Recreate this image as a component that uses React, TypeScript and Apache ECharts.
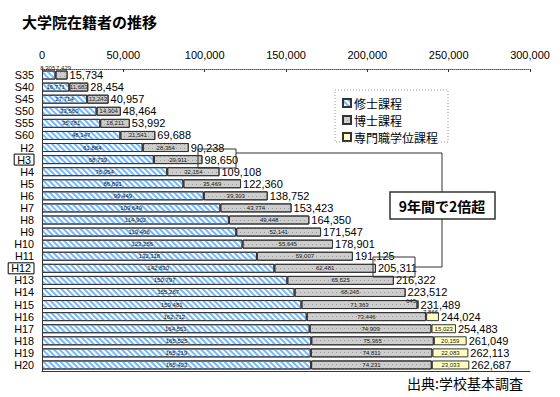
import React, { useEffect, useRef } from "react";
import * as echarts from "echarts";

const categories = ["S35","S40","S45","S50","S55","S60","H2","H3","H4","H5","H6","H7","H8","H9","H10","H11","H12","H13","H14","H15","H16","H17","H18","H19","H20"];
const master = [8305,16771,27714,33560,35781,48147,61884,68739,76954,86891,99449,109649,114902,119406,123256,132118,142830,150797,155267,159481,162712,164551,165525,165219,165423];
const doctor = [7429,11683,13243,14904,18211,21541,28354,29911,32154,35469,39303,43774,49448,52141,55645,59007,62481,65525,68245,71363,73446,74909,75365,74811,74231];
const professional: (number | null)[] = [null,null,null,null,null,null,null,null,null,null,null,null,null,null,null,null,null,null,null,645,7866,15023,20159,22083,23033];
const xTicks = [0, 50000, 100000, 150000, 200000, 250000, 300000];
const boxed = ["H3", "H12"];

const fmt = (v: number) => v.toLocaleString("en-US");
const NARROW = "'Liberation Sans Narrow', 'Liberation Sans', sans-serif";
const JP = "'Noto Sans CJK JP', sans-serif";

export default function App() {
  const ref = useRef<HTMLDivElement>(null);
  useEffect(() => {
    if (!ref.current) return;
    const chart = echarts.init(ref.current, undefined, { renderer: "svg" });
    const totals = categories.map((_, i) => master[i] + doctor[i] + (professional[i] ?? 0));
    const smallLabel = { show: true, position: "inside", fontSize: 6, lineHeight: 6, color: "#222", fontFamily: NARROW, formatter: (p: any) => fmt(p.value) };
    const topLabel = (offset: number[]) => ({ position: "top", distance: 0, offset, lineHeight: 5 });
    const masterTop: Record<number, number[]> = { 0: [-1, 0] };
    const doctorTop: Record<number, number[]> = { 0: [2, 0] };
    const profTop: Record<number, number[]> = { 19: [-7, 3], 20: [-2, 2.5] };
    const withTop = (arr: (number | null)[], tops: Record<number, number[]>) =>
      arr.map((v, i) => (v == null ? "-" : tops[i] ? { value: v, label: topLabel(tops[i]) } : v));
    chart.setOption({
      animation: false,
      textStyle: { fontFamily: "'Liberation Sans', sans-serif" },
      grid: { left: 42, top: 69, width: 488, height: 302, containLabel: false },
      legend: {
        data: ["修士課程", "博士課程", "専門職学位課程"],
        orient: "vertical",
        left: 337,
        top: 92,
        itemWidth: 8,
        itemHeight: 8,
        itemGap: 5,
        icon: "rect",
        textStyle: { fontSize: 12, color: "#000", fontFamily: JP, padding: [0, 0, 0, -2] },
      },
      xAxis: [
        {
          type: "value",
          position: "top",
          min: xTicks[0],
          max: xTicks[xTicks.length - 1],
          interval: xTicks[1] - xTicks[0],
          axisLine: { show: true, lineStyle: { color: "#555", type: "dotted" } },
          axisTick: { show: true, inside: true, length: 3, lineStyle: { color: "#333" } },
          axisLabel: { fontSize: 11, color: "#000", margin: 9, formatter: (v: number) => fmt(v) },
          splitLine: { show: false },
        },
        {
          type: "value",
          position: "bottom",
          min: xTicks[0],
          max: xTicks[xTicks.length - 1],
          axisLine: { show: true, lineStyle: { color: "#333" } },
          axisTick: { show: false },
          axisLabel: { show: false },
          splitLine: { show: false },
        },
      ],
      yAxis: [
        {
          type: "category",
          data: categories,
          inverse: true,
          axisLine: { show: true, lineStyle: { color: "#333" } },
          axisTick: { show: false },
          axisLabel: {
            interval: 0,
            fontSize: 10.8,
            lineHeight: 11,
            color: "#000",
            margin: 8,
            formatter: (v: string) => (boxed.includes(v) ? `{box|${v}}` : v),
            rich: { box: { fontSize: 10.8, lineHeight: 10, color: "#000", borderColor: "#000", borderWidth: 1, padding: [0, 3, 0, 3] } },
          },
        },
        {
          type: "category",
          data: categories,
          inverse: true,
          position: "right",
          axisLine: { show: true, lineStyle: { color: "#333" } },
          axisTick: { show: false },
          axisLabel: { show: false },
        },
      ],
      series: [
        {
          name: "合計",
          type: "bar",
          data: totals,
          barWidth: 9,
          barGap: "-100%",
          silent: true,
          itemStyle: { color: "rgba(0,0,0,0)" },
          label: { show: true, position: "right", distance: 2, fontSize: 11, lineHeight: 10, color: "#000", fontFamily: NARROW, formatter: (p: any) => fmt(p.value) },
          z: 1,
        },
        {
          name: "修士課程",
          type: "bar",
          stack: "a",
          barWidth: 9,
          barGap: "-100%",
          data: withTop(master, masterTop),
          itemStyle: {
            color: "#ffffff",
            borderColor: "#333",
            borderWidth: 1,
            decal: { symbol: "rect", symbolSize: 1, color: "#74b9ff", dashArrayX: [1, 0], dashArrayY: [2, 2], rotation: Math.PI / 4 },
          },
          label: smallLabel,
          z: 2,
        },
        {
          name: "博士課程",
          type: "bar",
          stack: "a",
          barWidth: 9,
          barGap: "-100%",
          data: withTop(doctor, doctorTop),
          itemStyle: {
            color: "#cdcdcd",
            borderColor: "#333",
            borderWidth: 1,
            decal: { symbol: "rect", symbolSize: 1, color: "#9a9a9a", dashArrayX: [1, 3], dashArrayY: [1, 3], rotation: 0 },
          },
          label: smallLabel,
          z: 2,
        },
        {
          name: "専門職学位課程",
          type: "bar",
          stack: "a",
          barWidth: 9,
          barGap: "-100%",
          data: withTop(professional, profTop),
          itemStyle: { color: "#ffffc2", borderColor: "#333", borderWidth: 1 },
          label: smallLabel,
          z: 2,
        },
      ],
      graphic: [
        { type: "text", left: 22, top: 14, style: { text: "大学院在籍者の推移", fontSize: 15, fontWeight: "bold", fill: "#000", fontFamily: JP } },
        { type: "rect", shape: { x: 335, y: 90, width: 113, height: 52 }, style: { fill: "none", stroke: "#999", lineWidth: 1, lineDash: [1, 2] }, z: 10 },
        { type: "rect", shape: { x: 198, y: 149, width: 38, height: 19 }, style: { fill: "none", stroke: "#333", lineWidth: 1 }, z: 10 },
        { type: "polyline", shape: { points: [[236, 153], [442, 153], [442, 192]] }, style: { stroke: "#333", lineWidth: 1, fill: "none" }, z: 10 },
        { type: "rect", shape: { x: 390, y: 192, width: 105, height: 27 }, style: { fill: "#fff", stroke: "#333", lineWidth: 1.5 }, z: 10 },
        { type: "text", x: 442, y: 205.5, style: { text: "9年間で2倍超", fontSize: 14, fontWeight: "bold", fill: "#000", fontFamily: JP, align: "center", verticalAlign: "middle" }, z: 11 },
        { type: "polyline", shape: { points: [[442, 219], [442, 267], [415, 267]] }, style: { stroke: "#333", lineWidth: 1, fill: "none" }, z: 10 },
        { type: "rect", shape: { x: 373, y: 257, width: 42, height: 20 }, style: { fill: "none", stroke: "#333", lineWidth: 1 }, z: 10 },
        { type: "text", left: 407, top: 376, style: { text: "出典:学校基本調査", fontSize: 14, fill: "#000", fontFamily: JP } },
      ],
    });
    return () => chart.dispose();
  }, []);
  return <div ref={ref} style={{ width: 560, height: 397, position: "absolute", left: 0, top: 0 }} />;
}
